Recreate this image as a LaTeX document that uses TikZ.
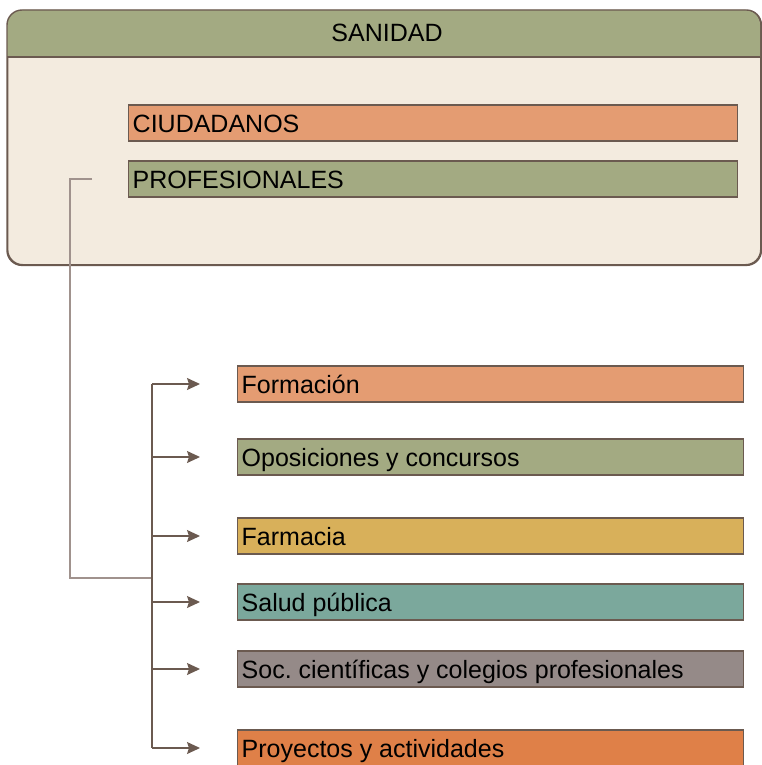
\documentclass[tikz,border=0pt]{standalone}
\usepackage{fontspec}
\setmainfont{Liberation Sans}
\usepackage{tikz}
\usetikzlibrary{arrows.meta,positioning}

\definecolor{hdrgreen}{RGB}{163,170,130}
\definecolor{paper}{RGB}{243,235,223}
\definecolor{peach}{RGB}{228,156,114}
\definecolor{ochre}{RGB}{216,176,90}
\definecolor{teal}{RGB}{123,168,156}
\definecolor{taupe}{RGB}{149,138,136}
\definecolor{rust}{RGB}{223,128,72}
\definecolor{edge}{RGB}{107,90,80}
\definecolor{wire}{RGB}{160,146,141}

\begin{document}
\begin{tikzpicture}[x=1pt,y=-1pt,
		font=\fontsize{25}{30}\selectfont,
		line width=1.4pt]
		\tikzstyle{group}=[draw=edge, anchor=west, inner xsep=4pt, inner ysep=0pt,
			minimum height=36pt, text height=22pt, text depth=4pt,
			text width=601pt, align=flush left];
		\tikzstyle{topic}=[group, text width=498pt];
		\tikzstyle{feed}=[draw=edge, -{Stealth[length=13pt,width=12pt,inset=2pt]}];

		\useasboundingbox (0,0) rectangle (762,765);

		% panel with header
		\node[draw=edge, fill=paper, rounded corners=15pt, anchor=north west,
			minimum width=753pt, minimum height=254pt] (panel) at (7,10) {};
		\fill[hdrgreen] (7,57) [rounded corners=15pt] -- (7,10) -- (760,10)
			[sharp corners] -- (760,57) -- cycle;
		\draw[edge] (7,57) -- (760,57);
		\draw[edge, rounded corners=15pt] (panel.north west) rectangle (panel.south east);
		\node[text height=22pt, text depth=4pt] (title) at (387,33) {SANIDAD};

		\node[group, fill=peach] (ciud) at (128,123) {CIUDADANOS};
		\node[group, fill=hdrgreen] (prof) at (128,179) {PROFESIONALES};

		% topics
		\node[topic, fill=peach] (form) at (237,384) {Formación};
		\node[topic, fill=hdrgreen] (opos) at (237,457) {Oposiciones y concursos};
		\node[topic, fill=ochre] (farm) at (237,536) {Farmacia};
		\node[topic, fill=teal] (salud) at (237,602) {Salud pública};
		\node[topic, fill=taupe] (soc) at (237,669) {Soc.\ científicas y colegios profesionales};
		\node[topic, fill=rust] (proy) at (237,748) {Proyectos y actividades};

		% wiring
		\coordinate (tap) at ([xshift=-36pt]prof.west);
		\coordinate (join) at (152,578);
		\draw[wire] (tap) -- (70,179) |- (join);
		\draw[edge] (152,384) -- (152,748);
		\foreach \t in {form,opos,farm,salud,soc,proy}
			\draw[feed] (152,0 |- \t.west) -- ([xshift=-37pt]\t.west);
	\end{tikzpicture}
\end{document}
